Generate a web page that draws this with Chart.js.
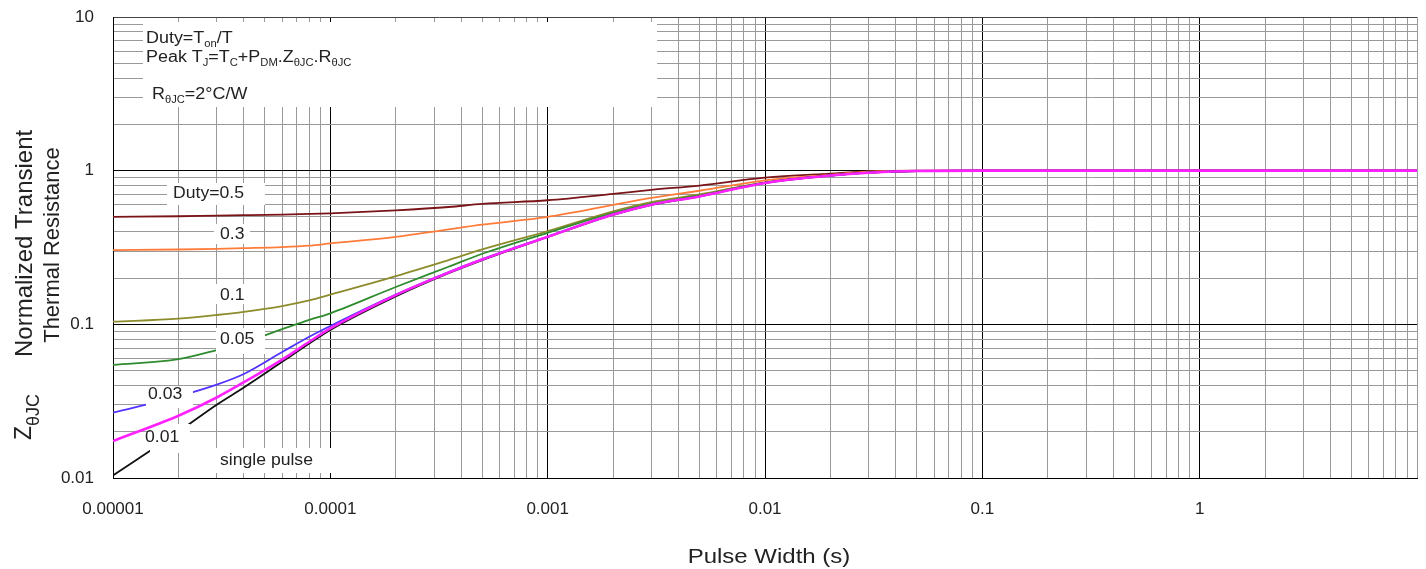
<!DOCTYPE html>
<html>
<head>
<meta charset="utf-8">
<title>Normalized Transient Thermal Resistance</title>
<script src="https://cdn.jsdelivr.net/npm/chart.js"></script>
<style>
  html, body { margin: 0; padding: 0; background: #fff; }
  #wrap { width: 1426px; height: 569px; }
</style>
</head>
<body>
<div id="wrap"><canvas id="zthChart" width="1426" height="569"></canvas></div>
<script>
// --- data ---
const pulseWidths = [1e-5, 2e-5, 3e-5, 4e-5, 6e-5, 8e-5, 1e-4, 2e-4, 3.5e-4, 5e-4, 1e-3, 2e-3, 3e-3, 5e-3, 1e-2, 2e-2, 3e-2, 5e-2, 0.1, 1, 10];

const zDuty05 = [0.50, 0.505, 0.51, 0.513, 0.518, 0.523, 0.528, 0.552, 0.58, 0.608, 0.642, 0.706, 0.75, 0.80, 0.90, 0.958, 0.99, 1, 1, 1, 1];
const zDuty03 = [0.304, 0.307, 0.31, 0.313, 0.318, 0.325, 0.336, 0.371, 0.415, 0.445, 0.50, 0.598, 0.665, 0.74, 0.865, 0.94, 0.985, 0.998, 1, 1, 1];
const zDuty01 = [0.104, 0.109, 0.115, 0.1205, 0.1315, 0.143, 0.156, 0.206, 0.262, 0.307, 0.404, 0.544, 0.625, 0.70, 0.84, 0.93, 0.97, 0.995, 1, 1, 1];
const zDuty005 = [0.0545, 0.0593, 0.068, 0.076, 0.093, 0.107, 0.118, 0.175, 0.237, 0.288, 0.394, 0.531, 0.61, 0.69, 0.835, 0.93, 0.97, 0.995, 1, 1, 1];
const zDuty003 = [0.0266, 0.034, 0.0405, 0.0475, 0.066, 0.083, 0.0975, 0.156, 0.219, 0.266, 0.373, 0.52, 0.602, 0.68, 0.833, 0.93, 0.97, 0.995, 1, 1, 1];
const zDuty001 = [0.0174, 0.0254, 0.0334, 0.042, 0.059, 0.077, 0.094, 0.155, 0.217, 0.264, 0.371, 0.518, 0.601, 0.68, 0.832, 0.93, 0.97, 0.995, 1, 1, 1];
const zSingle = [0.0104, 0.020, 0.030, 0.0388, 0.057, 0.075, 0.092, 0.152, 0.215, 0.262, 0.37, 0.515, 0.598, 0.68, 0.832, 0.93, 0.97, 0.995, 1, 1, 1];

const xDecades = [1e-5, 1e-4, 1e-3, 1e-2, 1e-1, 1];
const xTickLabels = ['0.00001', '0.0001', '0.001', '0.01', '0.1', '1'];
const yDecades = [0.01, 0.1, 1, 10];
const yTickLabels = ['0.01', '0.1', '1', '10'];

const FONT = '"Liberation Sans", Arial, sans-serif';
const TEXT = '#222222';

function logTicks(lo, hi) {
    // 1..9 in every decade, for the grid
    const out = [];
    for (let e = Math.round(Math.log10(lo)); e < Math.round(Math.log10(hi)); e++) {
        for (let m = 1; m < 10; m++) out.push(+(m * Math.pow(10, e)).toPrecision(6));
    }
    out.push(hi);
    return out;
}

function labelFor(value, decades, labels) {
    const i = decades.findIndex(d => Math.abs(Math.log10(d) - Math.log10(value)) < 1e-6);
    return i >= 0 ? labels[i] : '';
}

function isDecade(v) {
    return Math.abs(Math.log10(v) - Math.round(Math.log10(v))) < 1e-6;
}

function series(values) {
    return pulseWidths.map((t, i) => ({ x: t, y: values[i] }));
}

// text with sub-scripts, slightly widened like the scanned sheet
function drawRich(ctx, x, y, parts, size, subSize, sx) {
    ctx.save();
    ctx.translate(x, y);
    ctx.scale(sx, 1);
    ctx.textAlign = 'left';
    ctx.textBaseline = 'alphabetic';
    let cx = 0;
    parts.forEach(([txt, sub]) => {
        ctx.font = (sub ? subSize : size) + 'px ' + FONT;
        ctx.fillText(txt, cx, sub ? 3.5 : 0);
        cx += ctx.measureText(txt).width;
    });
    ctx.restore();
}

// white boxes behind the curve labels (drawn before the top magenta curve)
const labelBoxes = [
    [167, 183, 98, 22],
    [214, 224, 36, 20],
    [214, 284, 36, 20],
    [216, 328, 49, 26],
    [146, 386, 47, 22],
    [150, 424, 40, 29],
    [216, 448, 117, 25]
];

const curveLabels = [
    ['Duty=0.5', 173, 198],
    ['0.3', 220, 239],
    ['0.1', 220, 300],
    ['0.05', 220, 344],
    ['0.03', 148, 399],
    ['0.01', 145, 442],
    ['single pulse', 220, 465]
];

function noOverflow(scale) {
    scale.paddingLeft = 0;
    scale.paddingRight = 0;
    scale.paddingTop = 0;
    scale.paddingBottom = 0;
}

const sheetText = {
    id: 'sheetText',
    afterDatasetDraw(chart, args) {
        if (args.index !== 1) return;
        const ctx = chart.ctx;
        ctx.save();
        ctx.fillStyle = '#ffffff';
        labelBoxes.forEach(b => ctx.fillRect(b[0], b[1], b[2], b[3]));
        ctx.restore();
    },
    afterDatasetsDraw(chart) {
        const ctx = chart.ctx;
        ctx.save();
        // formula block
        ctx.fillStyle = '#ffffff';
        ctx.fillRect(143, 22, 514, 85);
        ctx.fillStyle = TEXT;
        drawRich(ctx, 146, 43, [['Duty=T'], ['on', 1], ['/T']], 16, 10, 1.12);
        drawRich(ctx, 146, 62, [['Peak T'], ['J', 1], ['=T'], ['C', 1], ['+P'], ['DM', 1], ['.Z'], ['θJC', 1], ['.R'], ['θJC', 1]], 16, 10, 1.12);
        drawRich(ctx, 152, 99, [['R'], ['θJC', 1], ['=2°C/W']], 16, 10, 1.12);
        curveLabels.forEach(([txt, x, y]) => drawRich(ctx, x, y, [[txt]], 16, 10, 1.1));
        ctx.restore();
    },
    afterDraw(chart) {
        const ctx = chart.ctx;
        ctx.save();
        ctx.fillStyle = TEXT;
        // x axis title
        ctx.translate(769, 563);
        ctx.scale(1.2, 1);
        ctx.font = '20px ' + FONT;
        ctx.textAlign = 'center';
        ctx.textBaseline = 'alphabetic';
        ctx.fillText('Pulse Width (s)', 0, 0);
        ctx.restore();

        // y axis title, two lines
        ctx.save();
        ctx.fillStyle = TEXT;
        ctx.translate(25, 440);
        ctx.rotate(-Math.PI / 2);
        ctx.textAlign = 'left';
        ctx.textBaseline = 'middle';
        ctx.font = '23px ' + FONT;
        ctx.fillText('Z', 0, 0);
        const zw = ctx.measureText('Z').width;
        ctx.font = '18px ' + FONT;
        ctx.fillText('θJC', zw, 9);
        ctx.font = '24px ' + FONT;
        ctx.fillText('Normalized Transient', 83, 0);
        ctx.restore();

        ctx.save();
        ctx.fillStyle = TEXT;
        ctx.translate(53, 245);
        ctx.rotate(-Math.PI / 2);
        ctx.textAlign = 'center';
        ctx.textBaseline = 'middle';
        ctx.font = '22px ' + FONT;
        ctx.fillText('Thermal Resistance', 0, 0);
        ctx.restore();
    }
};

function lineSet(label, values, color, width) {
    return {
        label: label,
        data: series(values),
        borderColor: color,
        backgroundColor: color,
        borderWidth: width,
        pointRadius: 0,
        fill: false,
        cubicInterpolationMode: 'monotone'
    };
}

new Chart(document.getElementById('zthChart').getContext('2d'), {
    type: 'line',
    data: {
        datasets: [
            lineSet('0.01', zDuty001, '#ff22ff', 2.6),
            lineSet('single pulse', zSingle, '#111111', 1.8),
            lineSet('0.03', zDuty003, '#5233ff', 1.8),
            lineSet('0.05', zDuty005, '#2e8b2e', 1.8),
            lineSet('0.1', zDuty01, '#8c8c2c', 1.8),
            lineSet('0.3', zDuty03, '#ff7b3a', 1.8),
            lineSet('Duty=0.5', zDuty05, '#7b1418', 1.8)
        ]
    },
    options: {
        responsive: false,
        animation: false,
        layout: { padding: { top: 17, right: 9, left: 0, bottom: 0 } },
        plugins: { legend: { display: false }, tooltip: { enabled: false } },
        scales: {
            x: {
                type: 'logarithmic',
                min: 1e-5,
                max: 10,
                afterBuildTicks: (scale) => { scale.ticks = logTicks(1e-5, 10).map(v => ({ value: v })); },
                afterFit: (scale) => { scale.height = 91; noOverflow(scale); },
                grid: {
                    drawTicks: false,
                    lineWidth: 1,
                    color: (c) => {
                        const v = c.tick ? c.tick.value : 0;
                        if (v >= 10) return '#9a9a9a';
                        return isDecade(v) ? '#000000' : '#9a9a9a';
                    }
                },
                border: { color: '#000000', width: 1 },
                ticks: {
                    autoSkip: false,
                    maxRotation: 0,
                    padding: 21,
                    color: TEXT,
                    font: { family: FONT, size: 17 },
                    callback: (v) => labelFor(v, xDecades, xTickLabels)
                }
            },
            y: {
                type: 'logarithmic',
                min: 0.01,
                max: 10,
                afterBuildTicks: (scale) => { scale.ticks = logTicks(0.01, 10).map(v => ({ value: v })); },
                afterFit: (scale) => { scale.width = 113; noOverflow(scale); },
                grid: {
                    drawTicks: false,
                    lineWidth: 1,
                    color: (c) => {
                        const v = c.tick ? c.tick.value : 0;
                        if (v >= 10) return '#444444';
                        return isDecade(v) ? '#000000' : '#9a9a9a';
                    }
                },
                border: { color: '#000000', width: 1 },
                ticks: {
                    autoSkip: false,
                    padding: 19,
                    color: TEXT,
                    font: { family: FONT, size: 17 },
                    callback: (v) => labelFor(v, yDecades, yTickLabels)
                }
            }
        }
    },
    plugins: [sheetText]
});
</script>
</body>
</html>
